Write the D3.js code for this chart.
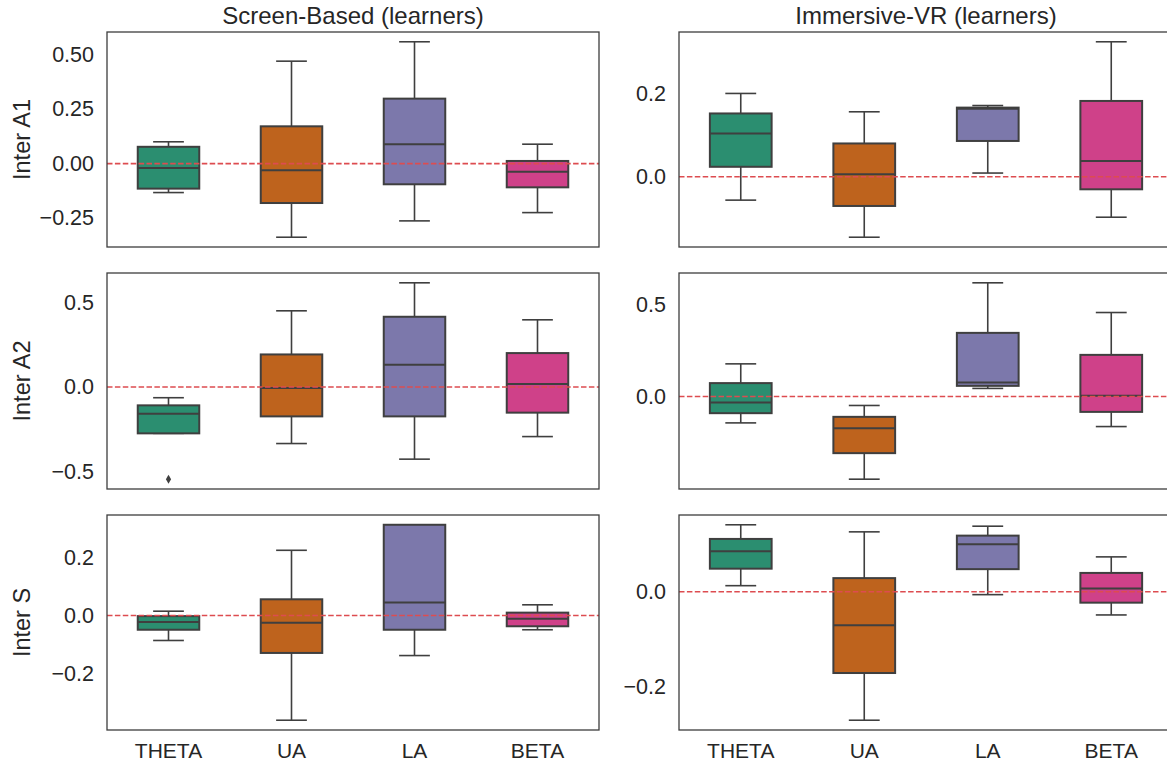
<!DOCTYPE html>
<html>
<head>
<meta charset="utf-8">
<script src="https://cdn.jsdelivr.net/npm/d3@7"></script>
<style>
  html, body { margin: 0; padding: 0; background: #ffffff; }
  svg { display: block; font-family: "Liberation Sans", Arial, Helvetica, sans-serif; }
</style>
</head>
<body>
<svg id="chart" width="1167" height="764"></svg>
<script>
// Categories (electrode bands) and facet labels
const categories = ["THETA", "UA", "LA", "BETA"];
const columnTitles = ["Screen-Based (learners)", "Immersive-VR (learners)"];
const rowLabels = ["Inter A1", "Inter A2", "Inter S"];

// Box statistics per category: [lower whisker, Q1, median, Q3, upper whisker]
const screenA1 = [
  [-0.133, -0.115, -0.020, 0.077, 0.100],
  [-0.338, -0.181, -0.031, 0.171, 0.470],
  [-0.263, -0.095, 0.089, 0.298, 0.559],
  [-0.225, -0.109, -0.038, 0.012, 0.089]
];
const vrA1 = [
  [-0.056, 0.024, 0.104, 0.152, 0.200],
  [-0.145, -0.070, 0.006, 0.080, 0.156],
  [0.009, 0.086, 0.163, 0.166, 0.171],
  [-0.097, -0.030, 0.038, 0.182, 0.324]
];
const screenA2 = [
  [-0.273, -0.273, -0.157, -0.108, -0.063],
  [-0.333, -0.173, -0.006, 0.192, 0.449],
  [-0.425, -0.173, 0.131, 0.414, 0.614],
  [-0.292, -0.151, 0.018, 0.200, 0.396]
];
const vrA2 = [
  [-0.144, -0.091, -0.033, 0.073, 0.178],
  [-0.451, -0.309, -0.173, -0.111, -0.049],
  [0.044, 0.058, 0.076, 0.347, 0.620],
  [-0.164, -0.084, 0.004, 0.227, 0.458]
];
const screenS = [
  [-0.086, -0.049, -0.022, -0.002, 0.015],
  [-0.361, -0.129, -0.025, 0.056, 0.225],
  [-0.138, -0.049, 0.045, 0.313, 0.313],
  [-0.049, -0.037, -0.011, 0.010, 0.037]
];
const vrS = [
  [0.013, 0.049, 0.086, 0.112, 0.142],
  [-0.272, -0.172, -0.071, 0.029, 0.127],
  [-0.006, 0.048, 0.101, 0.119, 0.139],
  [-0.049, -0.023, 0.007, 0.040, 0.074]
];

// Outliers: [category index, value]
const screenA2Outliers = [[0, -0.543]];

// Y tick values per panel
const ticksScreenA1 = [-0.25, 0.00, 0.25, 0.50];
const ticksVrA1 = [0.0, 0.2];
const ticksScreenA2 = [-0.5, 0.0, 0.5];
const ticksVrA2 = [0.0, 0.5];
const ticksScreenS = [-0.2, 0.0, 0.2];
const ticksVrS = [-0.2, 0.0];

// Dark2 palette, desaturated the way seaborn does for box fills
const basePalette = ["#1b9e77", "#d95f02", "#7570b3", "#e7298a"];
const palette = basePalette.map(c => { const h = d3.hsl(c); h.s *= 0.75; return h.formatHex(); });

const panels = [
  { row: 0, col: 0, stats: screenA1, outliers: [], ticks: ticksScreenA1, fmt: ".2f" },
  { row: 0, col: 1, stats: vrA1, outliers: [], ticks: ticksVrA1, fmt: ".1f" },
  { row: 1, col: 0, stats: screenA2, outliers: screenA2Outliers, ticks: ticksScreenA2, fmt: ".1f" },
  { row: 1, col: 1, stats: vrA2, outliers: [], ticks: ticksVrA2, fmt: ".1f" },
  { row: 2, col: 0, stats: screenS, outliers: [], ticks: ticksScreenS, fmt: ".1f" },
  { row: 2, col: 1, stats: vrS, outliers: [], ticks: ticksVrS, fmt: ".1f" }
];

// Grid geometry
const colX = [[107, 599], [679, 1173]];
const rowY = [[32, 247], [273, 489], [515, 730]];

const svg = d3.select("#chart");
const lineColor = "#3f3f3f";
const textColor = "#262626";
const minus = s => s.replace("-", "\u2212");

panels.forEach(p => {
  const [x0, x1] = colX[p.col];
  const [y0, y1] = rowY[p.row];

  const x = d3.scaleBand().domain(categories).range([x0, x1]).padding(0);

  // Autoscaled y range with 5% margins around all values
  const vals = p.stats.flat().concat(p.outliers.map(o => o[1]));
  const lo = d3.min(vals), hi = d3.max(vals), span = hi - lo;
  const y = d3.scaleLinear().domain([lo - 0.05 * span, hi + 0.05 * span]).range([y1, y0]);

  const g = svg.append("g");
  const boxW = x.bandwidth() * 0.5;
  const capW = boxW * 0.5;

  // Boxes
  p.stats.forEach((s, i) => {
    const cx = x(categories[i]) + x.bandwidth() / 2;
    const [wl, q1, med, q3, wh] = s;
    const bg = g.append("g");
    // whiskers
    bg.append("line").attr("x1", cx).attr("x2", cx).attr("y1", y(q3)).attr("y2", y(wh))
      .attr("stroke", lineColor).attr("stroke-width", 1.6);
    bg.append("line").attr("x1", cx).attr("x2", cx).attr("y1", y(q1)).attr("y2", y(wl))
      .attr("stroke", lineColor).attr("stroke-width", 1.6);
    // caps
    [wl, wh].forEach(v => {
      bg.append("line").attr("x1", cx - capW / 2).attr("x2", cx + capW / 2)
        .attr("y1", y(v)).attr("y2", y(v))
        .attr("stroke", lineColor).attr("stroke-width", 1.6);
    });
    // box
    bg.append("rect").attr("x", cx - boxW / 2).attr("width", boxW)
      .attr("y", y(q3)).attr("height", Math.max(0, y(q1) - y(q3)))
      .attr("fill", palette[i]).attr("stroke", lineColor).attr("stroke-width", 2);
    // median
    bg.append("line").attr("x1", cx - boxW / 2).attr("x2", cx + boxW / 2)
      .attr("y1", y(med)).attr("y2", y(med))
      .attr("stroke", lineColor).attr("stroke-width", 2);
  });

  // Outlier markers (thin diamonds)
  p.outliers.forEach(([ci, v]) => {
    const cx = x(categories[ci]) + x.bandwidth() / 2;
    const cy = y(v);
    g.append("path")
      .attr("d", `M${cx},${cy - 4.5}L${cx + 2.6},${cy}L${cx},${cy + 4.5}L${cx - 2.6},${cy}Z`)
      .attr("fill", lineColor);
  });

  // Zero reference line
  g.append("line").attr("x1", x0).attr("x2", x1).attr("y1", y(0)).attr("y2", y(0))
    .attr("stroke", "#dd4c50").attr("stroke-width", 1.6).attr("stroke-dasharray", "5.5,2.4");

  // Frame
  g.append("rect").attr("x", x0).attr("y", y0).attr("width", x1 - x0).attr("height", y1 - y0)
    .attr("fill", "none").attr("stroke", "#3d3d3d").attr("stroke-width", 1.3);

  // Y axis (no tick marks, labels only)
  const yAxis = d3.axisLeft(y).tickValues(p.ticks).tickSize(0).tickPadding(13)
    .tickFormat(d => minus(d3.format(p.fmt)(d)));
  const ya = g.append("g").attr("transform", `translate(${x0},0)`).call(yAxis);
  ya.select(".domain").remove();
  ya.selectAll("text").attr("font-size", 21.5).attr("fill", textColor)
    .attr("font-family", "'Liberation Sans', Arial, sans-serif");

  // X axis labels on bottom row only
  if (p.row === 2) {
    const xAxis = d3.axisBottom(x).tickSize(0).tickPadding(0);
    const xa = g.append("g").attr("transform", `translate(0,${y1})`).call(xAxis);
    xa.select(".domain").remove();
    xa.selectAll("text").attr("font-size", 21).attr("fill", textColor)
      .attr("dy", null).attr("y", 28)
      .attr("font-family", "'Liberation Sans', Arial, sans-serif");
  }

  // Column titles
  if (p.row === 0) {
    svg.append("text").attr("x", (x0 + x1) / 2).attr("y", 24)
      .attr("text-anchor", "middle").attr("font-size", 24).attr("fill", textColor)
      .text(columnTitles[p.col]);
  }

  // Row labels
  if (p.col === 0) {
    svg.append("text")
      .attr("transform", `translate(30,${(y0 + y1) / 2}) rotate(-90)`)
      .attr("text-anchor", "middle").attr("font-size", 23.5).attr("fill", textColor)
      .text(rowLabels[p.row]);
  }
});
</script>
</body>
</html>
